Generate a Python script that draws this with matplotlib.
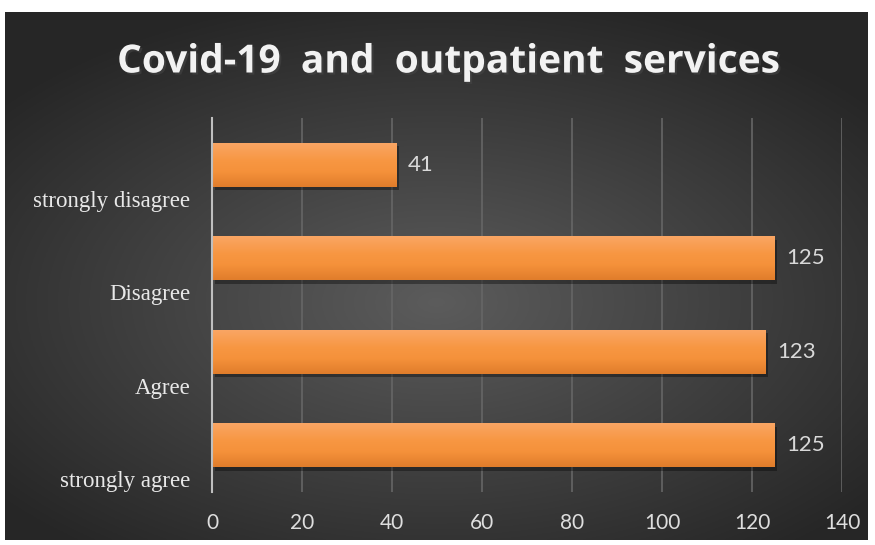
import numpy as np
import matplotlib.pyplot as plt
from matplotlib import patheffects as pe

categories = ['strongly agree', 'Agree', 'Disagree', 'strongly disagree']
counts = [125, 123, 125, 41]
xticks = [0, 20, 40, 60, 80, 100, 120, 140]

W, H = 875, 545
fig = plt.figure(figsize=(W / 100, H / 100), dpi=100)
fig.patch.set_facecolor('white')

# dark radial backdrop
bg = fig.add_axes([5 / W, 1 - 540 / H, 863 / W, 528 / H])
gx, gy = np.meshgrid(np.linspace(-1, 1, 400), np.linspace(-1, 1, 300))
r = np.sqrt((gx * 0.95) ** 2 + ((gy + 0.1) * 1.05) ** 2)
shade = 0.36 - 0.21 * np.clip(r, 0, 1.25) / 1.25
bg.imshow(np.dstack([shade] * 3), extent=[0, 1, 0, 1], aspect='auto', origin='lower')
bg.set_axis_off()

ax = fig.add_axes([212 / W, 1 - 492 / H, 630 / W, 374 / H])
ax.set_facecolor('none')
y = np.arange(len(categories))
bars = ax.barh(y, counts, height=0.47, color='#f79541', zorder=3,
               path_effects=[pe.SimplePatchShadow(offset=(2, -2.5), shadow_rgbFace='black', alpha=0.35),
                             pe.Normal()])

# vertical orange gradient on each bar
grad = np.interp(np.linspace(0, 1, 60), [0, 0.35, 0.6, 1], np.arange(4))
cols = np.array([[0.88, 0.49, 0.17], [0.96, 0.57, 0.23], [0.97, 0.59, 0.26], [0.98, 0.65, 0.39]])
img = np.array([cols[int(np.floor(g))] * (1 - g % 1) + cols[min(int(np.floor(g)) + 1, 3)] * (g % 1) for g in grad])
for b in bars:
    x0, y0 = b.get_x(), b.get_y()
    im = ax.imshow(img[:, None, :], extent=[x0, x0 + b.get_width(), y0, y0 + b.get_height()],
                   aspect='auto', origin='lower', zorder=4)
    im.set_clip_path(b)

for yi, v in zip(y, counts):
    ax.text(v + 2.6, yi, str(v), va='center', ha='left', color='#d9d9d9',
            fontsize=16, family='Lato', zorder=5)

ax.set_xlim(0, 140)
ax.set_ylim(-0.5, 3.5)
ax.set_xticks(xticks)
ax.set_xticklabels([str(t) for t in xticks], fontsize=15, color='#dedede', family='Lato')
ax.set_yticks(y - 0.365)
ax.set_yticklabels(categories, fontsize=16.5, color='#e8e8e8', family='Liberation Serif')
ax.tick_params(axis='both', length=0)
ax.tick_params(axis='x', pad=15)
ax.tick_params(axis='y', pad=15.5)
ax.grid(axis='x', color='#666666', linewidth=1.2, zorder=0)
for s in ['top', 'right', 'bottom']:
    ax.spines[s].set_visible(False)
ax.spines['left'].set_color('#bfbfbf')
ax.spines['left'].set_linewidth(1.5)
ax.spines['left'].set_zorder(6)

fig.text(448 / W, 1 - 62 / H, 'Covid-19  and  outpatient  services', ha='center', va='center',
         fontsize=28, fontweight='bold', color='#f2f2f2', family='Open Sans',
         path_effects=[pe.withSimplePatchShadow(offset=(1.5, -1.5), alpha=0.5)])

fig.savefig('out.png', dpi=100)
